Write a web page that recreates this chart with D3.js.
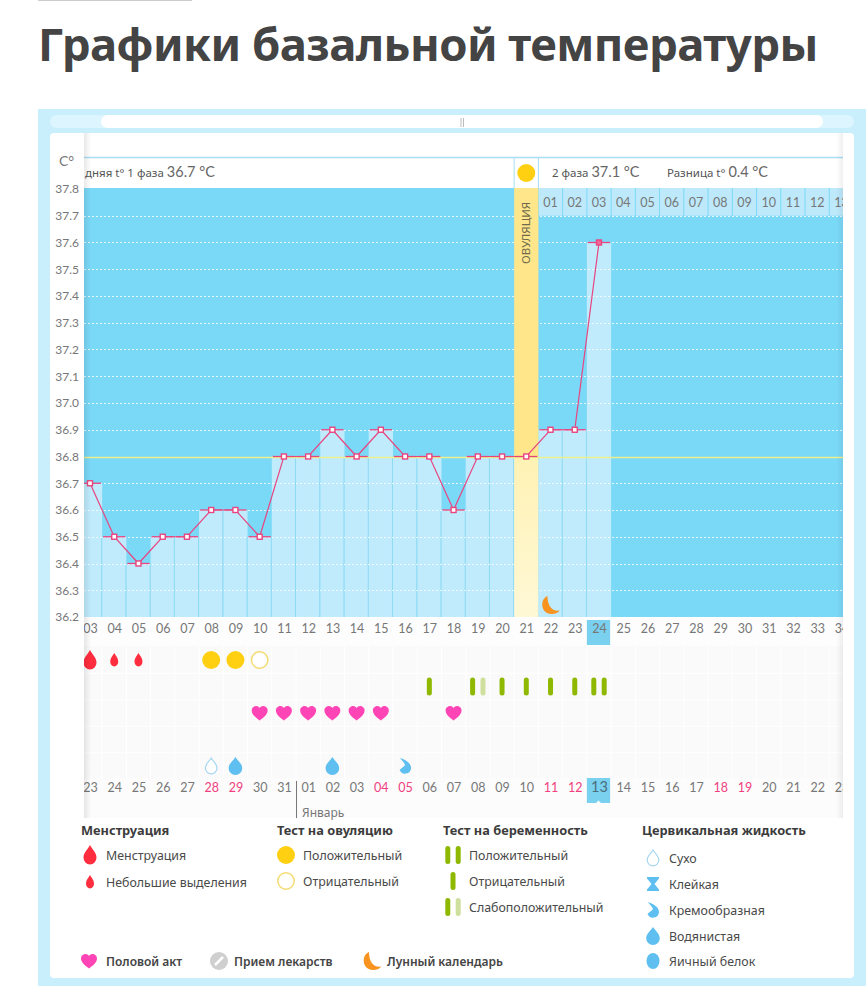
<!DOCTYPE html>
<html lang="ru">
<head>
  <meta charset="UTF-8">
  <title>Графики базальной температуры</title>
  <style>
    html, body { margin: 0; padding: 0; background: #fff; }
    svg { display: block; }
    text { font-family: "Noto Sans", sans-serif; }
    .title { font-size: 45.5px; font-weight: 700; fill: #444; letter-spacing: -0.55px; }
    .num text, .num { font-family: Lato, sans-serif; font-size: 12.5px; fill: #777; }
    .axis path, .axis line { display: none; }
    .legendTitle { font-size: 12.8px; font-weight: 700; fill: #3c3c3c; }
    .legendItem { font-size: 12.4px; fill: #4a4a4a; }
    .legendBottom { font-size: 12px; font-weight: 600; fill: #444; }
    .head { font-size: 11.5px; fill: #555; }
    .headValue { font-family: Lato, sans-serif; font-size: 14.5px; fill: #666; }
  </style>
</head>
<body>
  <div id="chart"></div>

  <script src="https://d3js.org/d3.v7.min.js"></script>
  <script>
    // данные графика
    const days = d3.range(3, 35)
    const temps = [36.7, 36.5, 36.4, 36.5, 36.5, 36.6, 36.6, 36.5, 36.8, 36.8, 36.9,
                   36.8, 36.9, 36.8, 36.8, 36.6, 36.8, 36.8, 36.8, 36.9, 36.9, 37.6]
    const tempTicks = [36.2, 36.3, 36.4, 36.5, 36.6, 36.7, 36.8, 36.9, 37.0, 37.1, 37.2,
                       37.3, 37.4, 37.5, 37.6, 37.7, 37.8]
    const dates = ['23','24','25','26','27','28','29','30','31','01','02','03','04','05','06','07',
                   '08','09','10','11','12','13','14','15','16','17','18','19','20','21','22','23']
    const redDates = [5, 6, 12, 13, 19, 20, 26, 27]
    const phaseDays = ['01','02','03','04','05','06','07','08','09','10','11','12','13']
    const rows = ['menses', 'ovulation', 'pregnancy', 'sex', 'fluid']

    const coverline = 36.8
    const ovulationDay = 21
    const today = 24
    const moonDay = 22
    const januaryDay = 12

    const mensesMarks = [[3, 'big'], [4, 'small'], [5, 'small']]
    const ovulationMarks = [[8, 'pos'], [9, 'pos'], [10, 'neg']]
    const pregnancyMarks = [[17, 'neg'], [19, 'weak'], [20, 'neg'], [21, 'neg'], [22, 'neg'], [23, 'neg'], [24, 'pos']]
    const sexDays = [10, 11, 12, 13, 14, 15, 18]
    const fluidMarks = [[8, 'dry'], [9, 'water'], [13, 'water'], [16, 'cream']]

    const width = 866, height = 1000
    const plot = { left: 84, right: 843, top: 188, bottom: 617 }

    const svg = d3.select('#chart').append('svg')
      .attr('width', width)
      .attr('height', height)

    const defs = svg.append('defs')
    defs.append('clipPath').attr('id', 'plotClip').append('rect')
      .attr('x', plot.left).attr('y', 130)
      .attr('width', plot.right - plot.left).attr('height', 695)

    const grad = (id, stops, horizontal) => {
      const g = defs.append('linearGradient').attr('id', id)
        .attr('x1', 0).attr('y1', 0)
        .attr('x2', horizontal ? 1 : 0).attr('y2', horizontal ? 0 : 1)
      stops.forEach(s => g.append('stop').attr('offset', s[0]).attr('stop-color', s[1]).attr('stop-opacity', s[2]))
    }
    grad('ovu', [[0, '#fff2b4', 1], [1, '#fff8d6', 1]])
    grad('shadowL', [[0, '#000', 0.09], [1, '#000', 0]], true)
    grad('shadowR', [[0, '#000', 0], [1, '#000', 0.06]], true)

    // шкалы
    const x = d3.scaleLinear().domain([3, 24]).range([90, 599])
    const y = d3.scaleLinear().domain([36.2, 37.8]).range([plot.bottom, plot.top + 1])
    const rowY = d3.scalePoint().domain(rows).range([660, 766])
    const cell = x(4) - x(3)

    // заголовок
    svg.append('rect').attr('x', 38).attr('y', 0).attr('width', 154).attr('height', 1).attr('fill', '#ccc')
    svg.append('text').attr('class', 'title').attr('x', 38).attr('y', 61)
      .text('Графики базальной температуры')

    // рамка
    svg.append('rect').attr('x', 38).attr('y', 109).attr('width', 828).attr('height', 877).attr('fill', '#c9eefc')
    svg.append('rect').attr('x', 50).attr('y', 133).attr('width', 804).attr('height', 845).attr('rx', 4).attr('fill', '#fff')
    svg.append('rect').attr('x', 50).attr('y', 115).attr('width', 804).attr('height', 13).attr('rx', 6.5).attr('fill', '#dcf5fe')
    svg.append('rect').attr('x', 101).attr('y', 115).attr('width', 722).attr('height', 13).attr('rx', 6.5).attr('fill', '#fff')
    svg.append('path').attr('d', 'M461 118V127M463.5 118V127').attr('stroke', '#bbb').attr('fill', 'none')

    // область графика
    const chart = svg.append('g').attr('clip-path', 'url(#plotClip)')
    chart.append('rect').attr('x', plot.left).attr('y', plot.top)
      .attr('width', plot.right - plot.left).attr('height', plot.bottom - plot.top).attr('fill', '#7bd9f8')
    chart.append('line').attr('x1', plot.left).attr('x2', plot.right).attr('y1', 157.5).attr('y2', 157.5)
      .attr('stroke', '#a8dff2').attr('stroke-width', 1.5)

    // столбики
    chart.selectAll('.bar').data(temps).join('rect')
      .attr('class', 'bar')
      .attr('x', (d, i) => x(days[i]) - cell / 2)
      .attr('y', d => y(d))
      .attr('width', cell)
      .attr('height', d => y(36.2) - y(d))
      .attr('fill', '#bfebfd')
    chart.selectAll('.sep').data(temps).join('line')
      .attr('class', 'sep')
      .attr('x1', (d, i) => x(days[i]) + cell / 2 - 0.5)
      .attr('x2', (d, i) => x(days[i]) + cell / 2 - 0.5)
      .attr('y1', (d, i) => y(Math.min(d, i + 1 < temps.length ? temps[i + 1] : 36.2)))
      .attr('y2', y(36.2))
      .attr('stroke', '#8ddaf3')

    // пунктирная сетка
    chart.selectAll('.grid').data(tempTicks.slice(0, -1)).join('line')
      .attr('class', 'grid')
      .attr('x1', plot.left).attr('x2', plot.right)
      .attr('y1', d => Math.round(y(d)) + 0.5).attr('y2', d => Math.round(y(d)) + 0.5)
      .attr('stroke', '#fff').attr('stroke-opacity', 0.8)
      .attr('stroke-dasharray', '2 2')

    // шапка второй фазы
    chart.selectAll('.phaseCell').data(phaseDays).join('rect')
      .attr('class', 'phaseCell')
      .attr('x', (d, i) => x(ovulationDay + 1 + i) - cell / 2 + 0.5)
      .attr('y', plot.top)
      .attr('width', cell - 1)
      .attr('height', y(37.7) - plot.top)
      .attr('fill', '#bde9fb')
    chart.selectAll('.phaseLabel').data(phaseDays).join('text')
      .attr('class', 'phaseLabel num')
      .attr('x', (d, i) => x(ovulationDay + 1 + i))
      .attr('y', plot.top + 19)
      .attr('text-anchor', 'middle')
      .text(d => d)

    // овуляция
    const ovuTemp = temps[days.indexOf(ovulationDay)]
    chart.append('rect')
      .attr('x', x(ovulationDay) - cell / 2).attr('y', plot.top)
      .attr('width', cell).attr('height', y(ovuTemp) - plot.top)
      .attr('fill', '#ffe68a')
    chart.append('rect')
      .attr('x', x(ovulationDay) - cell / 2).attr('y', y(ovuTemp))
      .attr('width', cell).attr('height', y(36.2) - y(ovuTemp))
      .attr('fill', 'url(#ovu)')
    chart.selectAll('.ovuEdge').data([-cell / 2, cell / 2]).join('line')
      .attr('class', 'ovuEdge')
      .attr('x1', d => x(ovulationDay) + d).attr('x2', d => x(ovulationDay) + d)
      .attr('y1', 158).attr('y2', plot.top)
      .attr('stroke', '#a8dff2')
    chart.append('circle').attr('cx', x(ovulationDay)).attr('cy', 173).attr('r', 9).attr('fill', '#ffd012')
    chart.append('text')
      .attr('transform', `translate(${x(ovulationDay) + 4},264) rotate(-90)`)
      .attr('font-size', 11.5).attr('fill', '#6d6a4c')
      .text('ОВУЛЯЦИЯ')

    // линия покрытия
    chart.append('line')
      .attr('x1', plot.left).attr('x2', plot.right)
      .attr('y1', y(coverline) + 1).attr('y2', y(coverline) + 1)
      .attr('stroke', '#eef08c').attr('stroke-width', 1.5)

    // кривая температуры
    const line = d3.line().x((d, i) => x(days[i])).y(d => y(d))
    chart.selectAll('.cap').data(temps).join('line')
      .attr('class', 'cap')
      .attr('x1', (d, i) => x(days[i]) - cell / 2 + 1)
      .attr('x2', (d, i) => x(days[i]) + cell / 2 - 1)
      .attr('y1', d => y(d)).attr('y2', d => y(d))
      .attr('stroke', '#e8457f').attr('stroke-width', 1.3)
    chart.append('path').datum(temps)
      .attr('d', line)
      .attr('fill', 'none')
      .attr('stroke', '#e8457f')
      .attr('stroke-width', 1.2)
    chart.selectAll('.pt').data(temps).join('rect')
      .attr('class', 'pt')
      .attr('x', (d, i) => x(days[i]) - 2.5)
      .attr('y', d => y(d) - 2.5)
      .attr('width', 5).attr('height', 5)
      .attr('fill', (d, i) => days[i] === today ? '#f06a98' : '#fff')
      .attr('stroke', '#e8457f')
      .attr('stroke-width', 1.4)

    // значки
    const dropBig = 'M0-10C2-6 6.5-2.5 6.5 2.5A6.5 7 0 0 1-6.5 2.5C-6.5-2.5-2-6 0-10Z'
    const dropSmall = 'M0-7C1.5-4 4-2 4 1.5A4 5 0 0 1-4 1.5C-4-2-1.5-4 0-7Z'
    const dropFluid = 'M0-9C2-5.5 6.8-2.5 6.8 2.2A6.8 6.8 0 0 1-6.8 2.2C-6.8-2.5-2-5.5 0-9Z'
    const dropDry = 'M0-8C1.5-5 5.8-2.5 5.8 2A5.8 5.8 0 0 1-5.8 2C-5.8-2.5-1.5-5 0-8Z'
    const dropCream = 'M-5-8C-2-7 6-4 6 2A6 6 0 0 1-5.5 4C-4 2-1 1 0-1C-1-4-4-6-5-8Z'
    const heart = 'M0 7.5C-3 5-8 2-8-2.5C-8-5.5-5.5-7-3.5-7C-2-7-.7-6.3 0-5C.7-6.3 2-7 3.5-7C5.5-7 8-5.5 8-2.5C8 2 3 5 0 7.5Z'
    const moon = 'M-3-9C-11-6-10 9 1 9C5 9 8 7.5 9 5.5C3 6.5-3 3-3-9Z'
    const sticky = 'M-6-7H6V-5.5L1.5 0L6 5.5V7H-6V5.5L-1.5 0L-6-5.5Z'

    const fluidDraw = (sel, type) => {
      if (type === 'dry') sel.append('path').attr('d', dropDry).attr('fill', '#fff').attr('stroke', '#a5d6ee').attr('stroke-width', 1.2)
      if (type === 'water') sel.append('path').attr('d', dropFluid).attr('fill', '#5fbff0')
      if (type === 'cream') sel.append('path').attr('d', dropCream).attr('fill', '#5fbff0')
      if (type === 'sticky') sel.append('path').attr('d', sticky).attr('fill', '#5fbff0')
      if (type === 'egg') sel.append('ellipse').attr('rx', 6.5).attr('ry', 8).attr('fill', '#5fbff0')
    }
    const stick = (sel, dx, color) => sel.append('rect')
      .attr('x', dx - 2.5).attr('y', -9).attr('width', 5).attr('height', 18).attr('rx', 2.5).attr('fill', color)
    const pregDraw = (sel, type) => {
      if (type === 'neg') stick(sel, 0, '#8fb800')
      if (type === 'pos') { stick(sel, -5.2, '#8fb800'); stick(sel, 5.2, '#8fb800') }
      if (type === 'weak') { stick(sel, -5.2, '#8fb800'); stick(sel, 5.2, '#cfdf9d') }
    }
    const ovuDraw = (sel, type) => {
      if (type === 'pos') sel.append('circle').attr('r', 9).attr('fill', '#ffd012')
      else sel.append('circle').attr('r', 8.2).attr('fill', '#fff').attr('stroke', '#f3dc72').attr('stroke-width', 1.5)
    }
    const mensDraw = (sel, type) => sel.append('path').attr('d', type === 'big' ? dropBig : dropSmall).attr('fill', '#ff2d3d')

    chart.append('g').attr('transform', `translate(${x(moonDay)},605)`)
      .append('path').attr('d', moon).attr('fill', '#f7931e')

    // подписи дней цикла
    chart.append('rect').attr('x', plot.left).attr('y', plot.bottom + 1)
      .attr('width', plot.right - plot.left).attr('height', 28).attr('fill', '#fdfdfd')
    chart.append('rect').attr('x', x(today) - cell / 2).attr('y', 620)
      .attr('width', cell - 1).attr('height', 25).attr('fill', '#79d0ef')

    const axisDays = d3.axisBottom(x).tickValues(days).tickSize(0).tickPadding(0)
      .tickFormat(d => d3.format('02')(d))
    chart.append('g').attr('class', 'axis num')
      .attr('transform', 'translate(0,622)')
      .call(axisDays)
      .call(g => g.select('.domain').remove())
      .selectAll('text').attr('class', 'num').attr('dy', '0.9em').style('font-size', '12.5px')

    // сетка значков
    chart.append('rect').attr('x', plot.left).attr('y', 646).attr('width', plot.right - plot.left)
      .attr('height', 132).attr('fill', '#fafafa')
    chart.selectAll('.rowLine').data(rows).join('line')
      .attr('class', 'rowLine')
      .attr('x1', plot.left).attr('x2', plot.right)
      .attr('y1', d => rowY(d) + rowY.step() / 2)
      .attr('y2', d => rowY(d) + rowY.step() / 2)
      .attr('stroke', '#fff')
    chart.selectAll('.colLine').data(days).join('line')
      .attr('class', 'colLine')
      .attr('x1', d => x(d) + cell / 2).attr('x2', d => x(d) + cell / 2)
      .attr('y1', 646).attr('y2', 778)
      .attr('stroke', '#fff')

    const place = (data, row, draw) => {
      chart.append('g').selectAll('g').data(data).join('g')
        .attr('transform', d => `translate(${x(d[0])},${rowY(row)})`)
        .each(function (d) { draw(d3.select(this), d[1]) })
    }
    place(mensesMarks, 'menses', mensDraw)
    place(ovulationMarks, 'menses', ovuDraw)
    place(pregnancyMarks, 'ovulation', pregDraw)
    place(fluidMarks, 'fluid', fluidDraw)
    chart.append('g').selectAll('path').data(sexDays).join('path')
      .attr('transform', d => `translate(${x(d)},${rowY('pregnancy')})`)
      .attr('d', heart).attr('fill', '#ff45b5')

    // подписи дат
    chart.append('rect').attr('x', plot.left).attr('y', 778).attr('width', plot.right - plot.left)
      .attr('height', 40).attr('fill', '#fcfcfc')
    chart.append('path')
      .attr('d', `M${x(today) - cell / 2} 778h${cell - 1}v25h-${cell / 2 - 3}l-2.5 -2.5l-2.5 2.5h-${cell / 2 - 3}z`)
      .attr('fill', '#79d0ef')
    const axisDates = d3.axisBottom(x).tickValues(days).tickSize(0).tickPadding(0)
      .tickFormat((d, i) => dates[i])
    chart.append('g').attr('class', 'axis num')
      .attr('transform', 'translate(0,781)')
      .call(axisDates)
      .call(g => g.select('.domain').remove())
      .selectAll('text')
      .attr('class', 'num')
      .attr('dy', '0.9em')
      .style('font-size', (d, i) => days[i] === today ? '14.5px' : '12.5px')
      .style('fill', (d, i) => redDates.includes(i) ? '#f0407f' : (days[i] === today ? '#4d6c7c' : '#777'))
      .attr('y', (d, i) => days[i] === today ? -2 : 0)
    chart.append('line')
      .attr('x1', x(januaryDay) - cell / 2 + 0.5).attr('x2', x(januaryDay) - cell / 2 + 0.5)
      .attr('y1', 781).attr('y2', 818)
      .attr('stroke', '#777')
    chart.append('text').attr('x', x(januaryDay) - cell / 2 + 6).attr('y', 817)
      .attr('font-size', 12).attr('fill', '#777').text('Январь')

    // шапка первой и второй фазы
    const firstHead = chart.append('text').attr('x', 85).attr('y', 177)
    firstHead.append('tspan').attr('class', 'head').text('дняя t° 1 фаза ')
    firstHead.append('tspan').attr('class', 'headValue').text('36.7 °C')
    const secondHead = chart.append('text').attr('x', 552).attr('y', 177)
    secondHead.append('tspan').attr('class', 'head').text('2 фаза ')
    secondHead.append('tspan').attr('class', 'headValue').text('37.1 °C')
    const diffHead = chart.append('text').attr('x', 667).attr('y', 177)
    diffHead.append('tspan').attr('class', 'head').text('Разница t° ')
    diffHead.append('tspan').attr('class', 'headValue').text('0.4 °C')

    // тени по краям
    svg.append('rect').attr('x', plot.left).attr('y', 133).attr('width', 7).attr('height', 685).attr('fill', 'url(#shadowL)')
    svg.append('rect').attr('x', plot.right - 7).attr('y', 133).attr('width', 7).attr('height', 685).attr('fill', 'url(#shadowR)')

    // ось температуры
    const axisTemp = d3.axisLeft(y).tickValues(tempTicks).tickSize(0).tickPadding(0).tickFormat(d3.format('.1f'))
    svg.append('g').attr('class', 'axis num')
      .attr('transform', 'translate(79,0)')
      .call(axisTemp)
      .call(g => g.select('.domain').remove())
      .selectAll('text').attr('class', 'num').style('font-size', '12px')
    svg.append('text').attr('x', 59).attr('y', 166).attr('font-size', 14).attr('fill', '#777')
      .style('font-family', 'Lato, sans-serif').text('C°')

    // легенда
    const legendTitles = [['Менструация', 81], ['Тест на овуляцию', 277], ['Тест на беременность', 443], ['Цервикальная жидкость', 642]]
    svg.selectAll('.legendTitle').data(legendTitles).join('text')
      .attr('class', 'legendTitle')
      .attr('x', d => d[1]).attr('y', 835)
      .text(d => d[0])

    const legendItems = [
      ['Менструация', 90, 855, 106, mensDraw, 'big'],
      ['Небольшие выделения', 90, 882, 106, mensDraw, 'small'],
      ['Положительный', 286, 855, 303, ovuDraw, 'pos'],
      ['Отрицательный', 286, 881, 303, ovuDraw, 'neg'],
      ['Положительный', 453, 855, 469, pregDraw, 'pos'],
      ['Отрицательный', 453, 881, 469, pregDraw, 'neg'],
      ['Слабоположительный', 453, 907, 469, pregDraw, 'weak'],
      ['Сухо', 653, 858, 669, fluidDraw, 'dry'],
      ['Клейкая', 653, 884, 669, fluidDraw, 'sticky'],
      ['Кремообразная', 653, 910, 669, fluidDraw, 'cream'],
      ['Водянистая', 653, 936, 669, fluidDraw, 'water'],
      ['Яичный белок', 653, 961, 669, fluidDraw, 'egg']
    ]
    legendItems.forEach(d => {
      const g = svg.append('g').attr('transform', `translate(${d[1]},${d[2]})`)
      d[4](g, d[5])
      svg.append('text').attr('class', 'legendItem').attr('x', d[3]).attr('y', d[2] + 4.5).text(d[0])
    })

    // нижняя строка легенды
    svg.append('path').attr('transform', 'translate(89,961)').attr('d', heart).attr('fill', '#ff45b5')
    svg.append('text').attr('class', 'legendBottom').attr('x', 106).attr('y', 965.5).text('Половой акт')
    const pill = svg.append('g').attr('transform', 'translate(219,961)')
    pill.append('circle').attr('r', 9).attr('fill', '#cfcfcf')
    pill.append('line').attr('x1', -4).attr('y1', 4).attr('x2', 4).attr('y2', -4).attr('stroke', '#fff').attr('stroke-width', 2.5)
    svg.append('text').attr('class', 'legendBottom').attr('x', 234).attr('y', 965.5).text('Прием лекарств')
    svg.append('path').attr('transform', 'translate(372,961)').attr('d', moon).attr('fill', '#f7931e')
    svg.append('text').attr('class', 'legendBottom').attr('x', 387).attr('y', 965.5).text('Лунный календарь')
  </script>
</body>
</html>
